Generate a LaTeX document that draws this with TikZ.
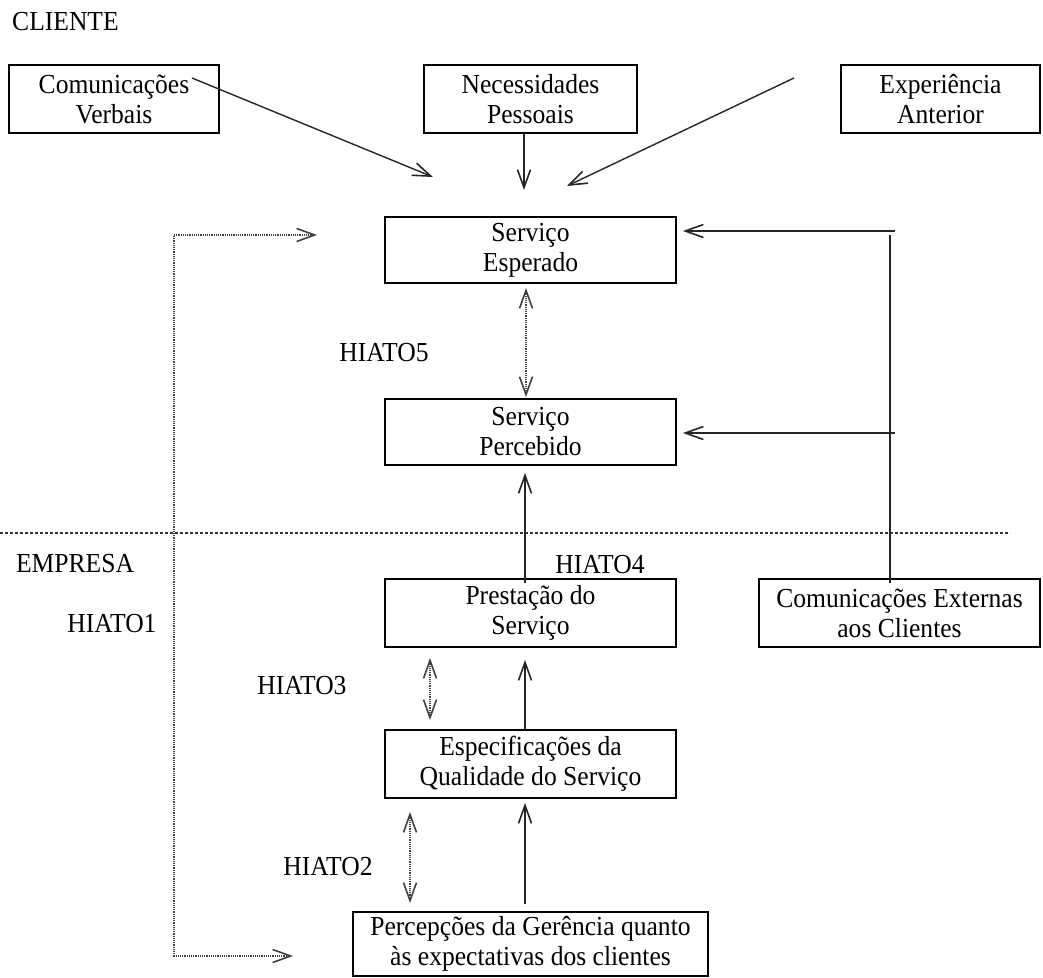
\documentclass[tikz,border=0pt]{standalone}
\usepackage{fontspec}
\setmainfont{Liberation Serif}[FakeStretch=0.93]
\usetikzlibrary{arrows.meta}
\begin{document}
\begin{tikzpicture}[x=1pt,y=-1pt,
  every node/.style={font=\fontsize{27.5}{30}\selectfont, inner sep=0pt},
  box/.style={draw, line width=1.6pt, align=center},
  lbl/.style={},
  flow/.style={line width=1.4pt, draw=black!85, -{Straight Barb[length=18pt,width=13pt,line width=1.6pt]}},
  gap/.style={line width=1.1pt, draw=black!75, dash pattern=on 1.2pt off 1pt,
    {Straight Barb[length=18pt,width=13pt,line width=1.6pt]}-{Straight Barb[length=18pt,width=13pt,line width=1.6pt]}},
  link/.style={line width=1.4pt, draw=black!85}]
\useasboundingbox (0,0) rectangle (1043,977);

% client side
\node[lbl, anchor=west] (cliente) at (12,22) {CLIENTE};
\node[box, minimum width=210pt, minimum height=68pt] (cv) at (114,99) {Comunicações\\Verbais};
\node[box, minimum width=213pt, minimum height=68pt] (np) at (530.5,99) {Necessidades\\Pessoais};
\node[box, minimum width=199pt, minimum height=68pt] (ea) at (940.5,99) {Experiência\\Anterior};
\node[box, minimum width=291pt, minimum height=66pt] (se) at (530.5,250) {Serviço\\Esperado};
\node[box, minimum width=291pt, minimum height=66pt] (sp) at (530.5,432) {Serviço\\Percebido};
\node[lbl] (h5) at (384,353) {HIATO5};

% company side
\node[lbl] (empresa) at (75,564) {EMPRESA};
\node[lbl] (h4) at (600,565) {HIATO4};
\node[lbl] (h1) at (112,624) {HIATO1};
\node[lbl] (h3) at (302,686) {HIATO3};
\node[lbl] (h2) at (328,867) {HIATO2};
\node[box, minimum width=291pt, minimum height=68pt] (ps) at (530.5,613) {Prestação do\\Serviço};
\node[box, minimum width=281pt, minimum height=68pt] (ce) at (899.5,613) {Comunicações Externas\\aos Clientes};
\node[box, minimum width=291pt, minimum height=68pt] (eq) at (530.5,764) {Especificações da\\Qualidade do Serviço};
\node[box, minimum width=355pt, minimum height=64pt] (pg) at (530.5,944) {Percepções da Gerência quanto\\às expectativas dos clientes};

% free ends of the connectors
\coordinate (cvs) at (192,78);
\coordinate (cvt) at (433,177);
\coordinate (npt) at (524,190);
\coordinate (eas) at (794,78);
\coordinate (eat) at (567,186);
\coordinate (ke) at (895,231);
\coordinate (ket) at (683,231);
\coordinate (kp) at (895,433);
\coordinate (kpt) at (683,433);
\coordinate (kb) at (890,583);
\coordinate (kt) at (890,235);
\coordinate (g5a) at (526,288);
\coordinate (g5b) at (526,397);
\coordinate (g3a) at (430,658);
\coordinate (g3b) at (430,720);
\coordinate (g2a) at (410,812);
\coordinate (g2b) at (410,903);
\coordinate (m1a) at (525,583);
\coordinate (m1b) at (525,473);
\coordinate (m2b) at (525,660);
\coordinate (m3a) at (525,904);
\coordinate (m3b) at (525,803);
\coordinate (d1) at (317,235);
\coordinate (d1c) at (174,235);
\coordinate (d2c) at (174,956);
\coordinate (d2) at (293,956);
\coordinate (sl) at (0,533);
\coordinate (sr) at (1010,533);

% client inputs to the expected service
\draw[flow] (cvs) -- (cvt);
\draw[flow] (np.south -| npt) -- (npt);
\draw[flow] (eas) -- (eat);

% external communications feed both services
\draw[link] (kb) -- (kt);
\draw[flow] (ke) -- (ket);
\draw[flow] (kp) -- (kpt);

% main chain
\draw[flow] (m1a) -- (m1b);
\draw[flow] (eq.north -| m2b) -- (m2b);
\draw[flow] (m3a) -- (m3b);

% gaps
\draw[gap] (g5a) -- (g5b);
\draw[gap] (g3a) -- (g3b);
\draw[gap] (g2a) -- (g2b);
\draw[gap] (d1) -- (d1c) -- (d2c) -- (d2);

% client / company boundary
\draw[line width=1.1pt, draw=black!80, dash pattern=on 3pt off 2pt] (sl) -- (sr);
\end{tikzpicture}
\end{document}
